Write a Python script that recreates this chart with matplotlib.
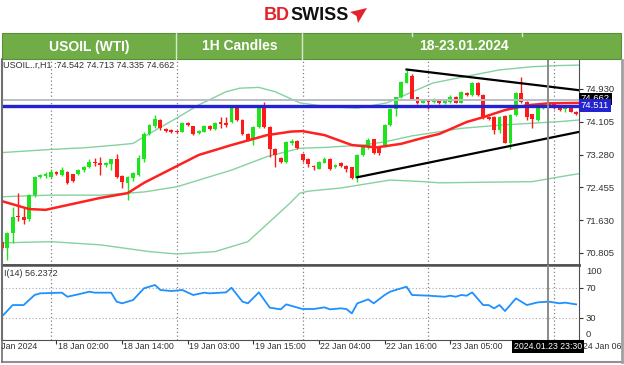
import matplotlib
matplotlib.use("Agg")
import matplotlib.pyplot as plt
from matplotlib.patches import Rectangle, Polygon
from matplotlib.lines import Line2D

plt.rcParams['font.family'] = ['Liberation Sans', 'DejaVu Sans']

# ---------------- data ----------------
bars = list(range(-9, 97))
opens = [71.07, 70.92, 71.30, 71.73, 71.70, 71.65, 72.26, 72.71, 72.73, 72.72,
         72.83, 72.77, 72.85, 72.78, 72.79, 72.88, 72.96, 73.10, 73.08, 73.02,
         73.04, 73.16, 72.73, 72.57, 72.68, 72.77, 73.16, 73.81, 74.00, 74.16,
         73.92, 73.90, 73.88, 73.86, 74.07, 73.99, 73.83, 73.86, 74.00, 73.92,
         74.10, 74.06, 74.10, 74.46, 74.15, 73.80, 73.65, 73.98, 74.53, 73.98,
         73.41, 73.19, 73.10, 73.56, 73.62, 73.30, 73.17, 73.00, 72.93, 73.08,
         73.17, 72.96, 73.06, 72.99, 72.96, 72.68, 73.27, 73.46, 73.66, 73.46,
         73.50, 74.02, 74.42, 74.72, 75.09, 75.26, 74.72, 74.59, 74.67, 74.61,
         74.67, 74.57, 74.61, 74.74, 74.59, 74.84, 74.78, 75.09, 74.78, 74.23,
         74.22, 73.90, 74.25, 73.56, 74.28, 74.84, 74.61, 74.29, 74.15, 74.44,
         74.55, 74.55, 74.44, 74.42, 74.50, 74.36]
highs = [71.10, 71.34, 71.97, 72.31, 71.97, 72.28, 72.74, 72.80, 72.83, 72.92,
         72.86, 72.98, 72.87, 72.80, 72.92, 73.00, 73.16, 73.19, 73.23, 73.10,
         73.18, 73.30, 72.76, 72.75, 72.85, 73.27, 73.85, 74.06, 74.28, 74.18,
         73.95, 73.92, 73.90, 74.10, 74.11, 74.00, 73.90, 74.03, 74.02, 74.10,
         74.23, 74.23, 74.50, 74.53, 74.17, 73.82, 74.00, 74.53, 74.61, 74.00,
         73.45, 73.22, 73.63, 73.66, 73.65, 73.32, 73.20, 73.03, 73.13, 73.23,
         73.19, 73.04, 73.09, 73.01, 72.98, 73.30, 73.50, 73.69, 73.68, 73.48,
         74.05, 74.45, 74.74, 75.13, 75.42, 75.30, 74.74, 74.69, 74.69, 74.70,
         74.69, 74.68, 74.78, 74.76, 74.88, 74.86, 75.11, 75.11, 74.80, 74.25,
         74.24, 74.24, 74.27, 74.30, 74.86, 75.22, 74.63, 74.31, 74.46, 74.52,
         74.58, 74.57, 74.46, 74.49, 74.52, 74.38]
lows = [70.88, 70.63, 71.05, 71.62, 71.53, 71.60, 72.22, 72.68, 72.70, 72.70,
        72.76, 72.74, 72.54, 72.58, 72.76, 72.85, 72.94, 73.00, 72.77, 72.98,
        72.89, 72.68, 72.43, 72.14, 72.62, 72.74, 73.10, 73.78, 73.96, 73.90,
        73.85, 73.83, 73.82, 73.84, 73.99, 73.78, 73.81, 73.84, 73.91, 73.90,
        73.94, 73.98, 74.08, 74.12, 73.78, 73.62, 73.52, 73.96, 73.95, 73.23,
        72.98, 73.06, 73.08, 73.53, 73.41, 73.10, 72.98, 72.89, 72.91, 73.06,
        72.89, 72.94, 72.97, 72.85, 72.66, 72.60, 73.24, 73.43, 73.30, 73.27,
        73.48, 74.00, 74.26, 74.70, 75.07, 74.65, 74.56, 74.57, 74.42, 74.59,
        74.55, 74.55, 74.59, 74.57, 74.57, 74.76, 74.76, 74.76, 74.17, 74.15,
        73.80, 73.83, 73.56, 73.41, 74.26, 74.58, 74.15, 73.94, 74.13, 74.42,
        74.50, 74.42, 74.38, 74.36, 74.34, 74.28]
closes = [70.92, 71.30, 71.72, 71.70, 71.64, 72.26, 72.71, 72.77, 72.79, 72.85,
          72.79, 72.89, 72.57, 72.62, 72.89, 72.98, 73.10, 73.06, 73.02, 73.08,
          73.16, 72.71, 72.60, 72.71, 72.81, 73.19, 73.81, 74.02, 74.17, 73.94,
          73.88, 73.86, 73.85, 74.07, 74.02, 73.80, 73.88, 74.00, 73.93, 74.07,
          74.05, 74.03, 74.46, 74.15, 73.80, 73.65, 73.98, 74.50, 73.98, 73.41,
          73.27, 73.10, 73.60, 73.62, 73.44, 73.14, 73.04, 72.97, 73.10, 73.16,
          72.91, 73.01, 72.99, 72.91, 72.68, 73.27, 73.46, 73.65, 73.33, 73.31,
          74.02, 74.42, 74.72, 75.11, 75.32, 74.67, 74.59, 74.67, 74.61, 74.67,
          74.57, 74.65, 74.74, 74.59, 74.86, 74.78, 75.09, 74.78, 74.19, 74.17,
          73.90, 74.22, 73.58, 74.28, 74.84, 74.61, 74.23, 74.17, 74.44, 74.50,
          74.53, 74.44, 74.40, 74.47, 74.36, 74.30]

ma_x = [-9, -4, -1, 3, 9, 14, 17, 23, 27, 33, 39.5, 44, 46, 50, 55, 59.5, 64, 68, 71, 76, 79, 83, 87, 91, 96.5]
ma_y = [72.11, 71.91, 71.89, 72.01, 72.19, 72.31, 72.57, 72.99, 73.27, 73.52, 73.77, 73.86, 73.87, 73.77,
        73.52, 73.46, 73.55, 73.70, 73.80, 74.10, 74.22, 74.40, 74.52, 74.57, 74.58]

bb_up_x = [-9, 0, 6, 12, 15, 17, 23, 27, 32, 34.5, 38, 41, 45.5, 51, 56, 61.4, 65.6, 69.8, 76, 82, 88, 93, 96.5]
bb_up_y = [73.33, 73.41, 73.45, 73.52, 73.56, 73.73, 74.20, 74.53, 74.86, 74.95, 74.97, 74.86, 74.58,
           74.48, 74.45, 74.58, 74.83, 75.08, 75.25, 75.41, 75.49, 75.52, 75.53]
bb_mid_x = [-9, 0, 9, 14, 17, 23, 33, 39.5, 45.5, 50, 57, 61, 66, 75, 82, 93, 96.5]
bb_mid_y = [72.22, 72.26, 72.26, 72.31, 72.34, 72.47, 72.89, 73.23, 73.44, 73.46, 73.52, 73.60, 73.75,
            73.94, 74.02, 74.11, 74.15]
bb_lo_x = [-9, 0, 9, 18, 23, 30, 36, 41, 43.7, 45.5, 47, 53, 62, 68, 71, 88, 93, 96.5]
bb_lo_y = [71.06, 71.09, 71.01, 70.84, 70.78, 70.84, 71.09, 71.72, 72.06, 72.31, 72.36, 72.44, 72.64,
           72.60, 72.57, 72.60, 72.72, 72.80]

trend_up_x = [65, 96.5]
trend_up_y = [75.42, 74.90]
trend_lo_x = [56, 96.5]
trend_lo_y = [72.71, 73.85]

hline_blue = 74.511
hline_cross = 74.662
day_starts = [0, 23, 46, 69, 92]
crosshair_bar = 90.9

rsi_x = [-9, -7, -5, -3, -2, 2, 3, 5, 7, 8, 11, 12, 13, 15, 17, 19, 20, 22, 24, 26, 28, 29, 32, 33, 35, 36,
         38, 40, 42, 43, 46, 48, 50, 51, 53, 54, 55, 56, 58, 59, 61, 62, 65, 66, 69, 72, 73, 74, 75, 76, 77,
         79, 80, 81, 82, 83, 85, 87, 89, 91, 93, 94, 96]
rsi_v = [31.1, 46.6, 46.6, 60.0, 62.2, 63.1, 57.7, 60.9, 64.4, 63.1, 63.1, 51.1, 48.9, 53.3, 68.9, 73.3,
         66.7, 65.3, 66.7, 60.0, 63.1, 62.2, 63.5, 69.7, 51.1, 48.9, 63.5, 43.1, 40.9, 47.5, 41.3, 41.3,
         43.5, 40.9, 42.2, 41.3, 35.5, 48.9, 54.2, 48.9, 60.0, 64.4, 71.1, 60.0, 59.1, 57.7, 59.1, 57.7,
         60.0, 59.1, 63.5, 46.6, 46.6, 42.2, 46.6, 38.6, 55.5, 46.6, 50.2, 51.1, 48.9, 49.8, 47.5]

price_ticks = [74.930, 74.105, 73.280, 72.455, 71.630, 70.805]
xlabel_bars = [1, 13, 25, 37, 49, 61, 73, 97]
xlabel_text = ['18 Jan 02:00', '18 Jan 14:00', '19 Jan 03:00', '19 Jan 15:00',
               '22 Jan 04:00', '22 Jan 16:00', '23 Jan 05:00', '24 Jan 06:00']

# ---------------- figure ----------------
W, H = 624, 365
fig = plt.figure(figsize=(6.24, 3.65), dpi=100)
fig.patch.set_facecolor('white')


def fx(px):
    return px / W


def fy(py):
    return 1 - py / H


XMIN, XMAX = -8.96, 96.53

# logo
fig.text(fx(264), fy(15.5), 'BD', color='#e3222b', fontsize=13, fontweight='bold', ha='left', va='center')
fig.text(fx(290), fy(15.5), 'SWISS', color='#111111', fontsize=13, fontweight='bold', ha='left', va='center')
fig.patches.append(Polygon([(fx(350), fy(12)), (fx(367), fy(8)), (fx(358), fy(23)), (fx(356.5), fy(16))],
                           closed=True, transform=fig.transFigure, facecolor='#e3222b', edgecolor='none'))

# green banner
fig.patches.append(Rectangle((fx(2), fy(59)), fx(621) - fx(2), fy(33) - fy(59), transform=fig.transFigure,
                             facecolor='#70ad47', edgecolor='#5a8f3a', linewidth=0.8))
for xd in [176, 302]:
    fig.lines.append(Line2D([fx(xd), fx(xd)], [fy(33), fy(59)], transform=fig.transFigure, color='#d8e8cc', lw=1))
for xd in [412, 522]:
    fig.lines.append(Line2D([fx(xd), fx(xd)], [fy(33), fy(36)], transform=fig.transFigure, color='#d8e8cc', lw=1))
for txt, xc in [('USOIL (WTI)', 89), ('1H Candles', 240), ('18-23.01.2024', 464)]:
    fig.text(fx(xc), fy(46.5), txt, color='white', fontsize=10, fontweight='bold', ha='center', va='center')

# ---------------- main price panel ----------------
ax = fig.add_axes([fx(2), fy(265), fx(579) - fx(2), fy(60) - fy(265)])
ax.set_facecolor('white')
ax.set_xlim(XMIN, XMAX)
ax.set_ylim(70.503, 75.659)

bb_col = '#86d1a0'
ax.plot(bb_up_x, bb_up_y, color=bb_col, lw=1.0, zorder=2)
ax.plot(bb_mid_x, bb_mid_y, color=bb_col, lw=1.0, zorder=2)
ax.plot(bb_lo_x, bb_lo_y, color=bb_col, lw=1.0, zorder=2)

for d in day_starts:
    ax.axvline(d, color='#808080', lw=0.9, ls=(0, (1, 2)), zorder=1)

bull, bear = '#1ee31e', '#ff1a1a'
for b, o, h, l, c in zip(bars, opens, highs, lows, closes):
    col = bull if c >= o else bear
    ax.vlines(b, l, h, color=col, lw=1.0, zorder=3)
    bot = min(o, c)
    ht = max(abs(c - o), 0.035)
    ax.bar(b, ht, bottom=bot, width=0.7, color=col, edgecolor='none', zorder=3)

ax.plot(ma_x, ma_y, color='#ff2020', lw=1.8, zorder=4)
ax.plot(trend_up_x, trend_up_y, color='black', lw=1.6, zorder=5)
ax.plot(trend_lo_x, trend_lo_y, color='black', lw=1.6, zorder=5)

ax.axhline(hline_cross, color='#b8bec6', lw=1.4, zorder=5)
ax.axhline(hline_blue, color='#2323d0', lw=2.4, zorder=6)
ax.axvline(crosshair_bar, color='#8a8a8a', lw=1.4, zorder=6)

ax.yaxis.tick_right()
ax.set_yticks(price_ticks)
ax.set_yticklabels([f'{v:.3f}' for v in price_ticks])
ax.tick_params(axis='y', direction='out', length=3, width=0.8, pad=2, labelsize=6.8,
               colors='#333333')
ax.set_xticks([])
ax.spines['top'].set_visible(False)
ax.spines['right'].set_color('#505050')
ax.spines['left'].set_color('#707070')
ax.spines['left'].set_linewidth(1.5)
ax.spines['bottom'].set_color('#505050')
ax.spines['bottom'].set_linewidth(1.8)

ytr = ax.get_yaxis_transform()
ax.text(1.003, hline_cross + 0.02, f'{hline_cross:.3f}', transform=ytr, ha='left', va='center', fontsize=6.8,
        color='white', clip_on=False, zorder=10,
        bbox=dict(boxstyle='square,pad=0.18', fc='black', ec='none'))
ax.text(1.003, hline_blue, f'{hline_blue:.3f}', transform=ytr, ha='left', va='center', fontsize=6.8,
        color='white', clip_on=False, zorder=11,
        bbox=dict(boxstyle='square,pad=0.18', fc='#2323d0', ec='none'))

ax.text(0.002, 0.972, 'USOIL..r,H1 :74.542 74.713 74.335 74.662', transform=ax.transAxes,
        ha='left', va='center', fontsize=6.5, color='#303030')

# ---------------- RSI panel ----------------
ax2 = fig.add_axes([fx(2), fy(340), fx(579) - fx(2), fy(265) - fy(340)])
ax2.set_facecolor('white')
ax2.set_xlim(XMIN, XMAX)
ax2.set_ylim(0, 100)
for lvl in [70, 30]:
    ax2.axhline(lvl, color='#a8a8a8', lw=0.8, ls=(0, (1, 2)), zorder=1)
for d in day_starts:
    ax2.axvline(d, color='#808080', lw=0.9, ls=(0, (1, 2)), zorder=1)
ax2.axvline(crosshair_bar, color='#8a8a8a', lw=1.4, zorder=4)
ax2.plot(rsi_x, rsi_v, color='#1e90ff', lw=1.3, zorder=3)

ax2.yaxis.tick_right()
ax2.set_yticks([70, 30])
ax2.set_yticklabels(['70', '30'])
ax2.tick_params(axis='y', direction='out', length=3, width=0.8, pad=2, labelsize=6.8, colors='#333333')
ax2.text(1.012, 91, '100', transform=ax2.get_yaxis_transform(), ha='left', va='center', fontsize=6.8,
         color='#333333', clip_on=False)
ax2.text(1.012, 7, '0', transform=ax2.get_yaxis_transform(), ha='left', va='center', fontsize=6.8,
         color='#333333', clip_on=False)

ax2.set_xticks([b for b in xlabel_bars if b < XMAX] + [85])
ax2.set_xticklabels([])
ax2.tick_params(axis='x', direction='out', length=3, width=0.8, colors='#333333')
for sp in ['top', 'right', 'bottom']:
    ax2.spines[sp].set_color('#505050')
ax2.spines['top'].set_linewidth(1.8)
ax2.spines['left'].set_color('#707070')
ax2.spines['left'].set_linewidth(1.5)

ax2.text(0.003, 0.893, 'I(14) 56.2372', transform=ax2.transAxes, ha='left', va='center', fontsize=6.5,
         color='#303030')

xtr = ax2.get_xaxis_transform()
for b, t in zip(xlabel_bars, xlabel_text):
    ax2.text(b + 0.25, -0.085, t, transform=xtr, ha='left', va='center', fontsize=6.3, color='#333333',
             clip_on=False, zorder=5)
fig.text(fx(37), fy(346.5), '17 Jan 2024', ha='right', va='center', fontsize=6.3, color='#333333')
ax2.text(crosshair_bar, -0.085, '2024.01.23 23:30', transform=xtr, ha='center', va='center', fontsize=6.3,
         color='white', clip_on=False, zorder=12,
         bbox=dict(boxstyle='square,pad=0.2', fc='black', ec='none'))

# window borders
fig.lines.append(Line2D([fx(2), fx(624)], [fy(361.5), fy(361.5)], transform=fig.transFigure, color='#909090', lw=1.5))
fig.lines.append(Line2D([fx(2), fx(2)], [fy(59), fy(362)], transform=fig.transFigure, color='#707070', lw=1.2))
fig.lines.append(Line2D([fx(622), fx(622)], [fy(60), fy(362)], transform=fig.transFigure, color='#a0a0a0', lw=2))

fig.savefig('out.png', dpi=100)
